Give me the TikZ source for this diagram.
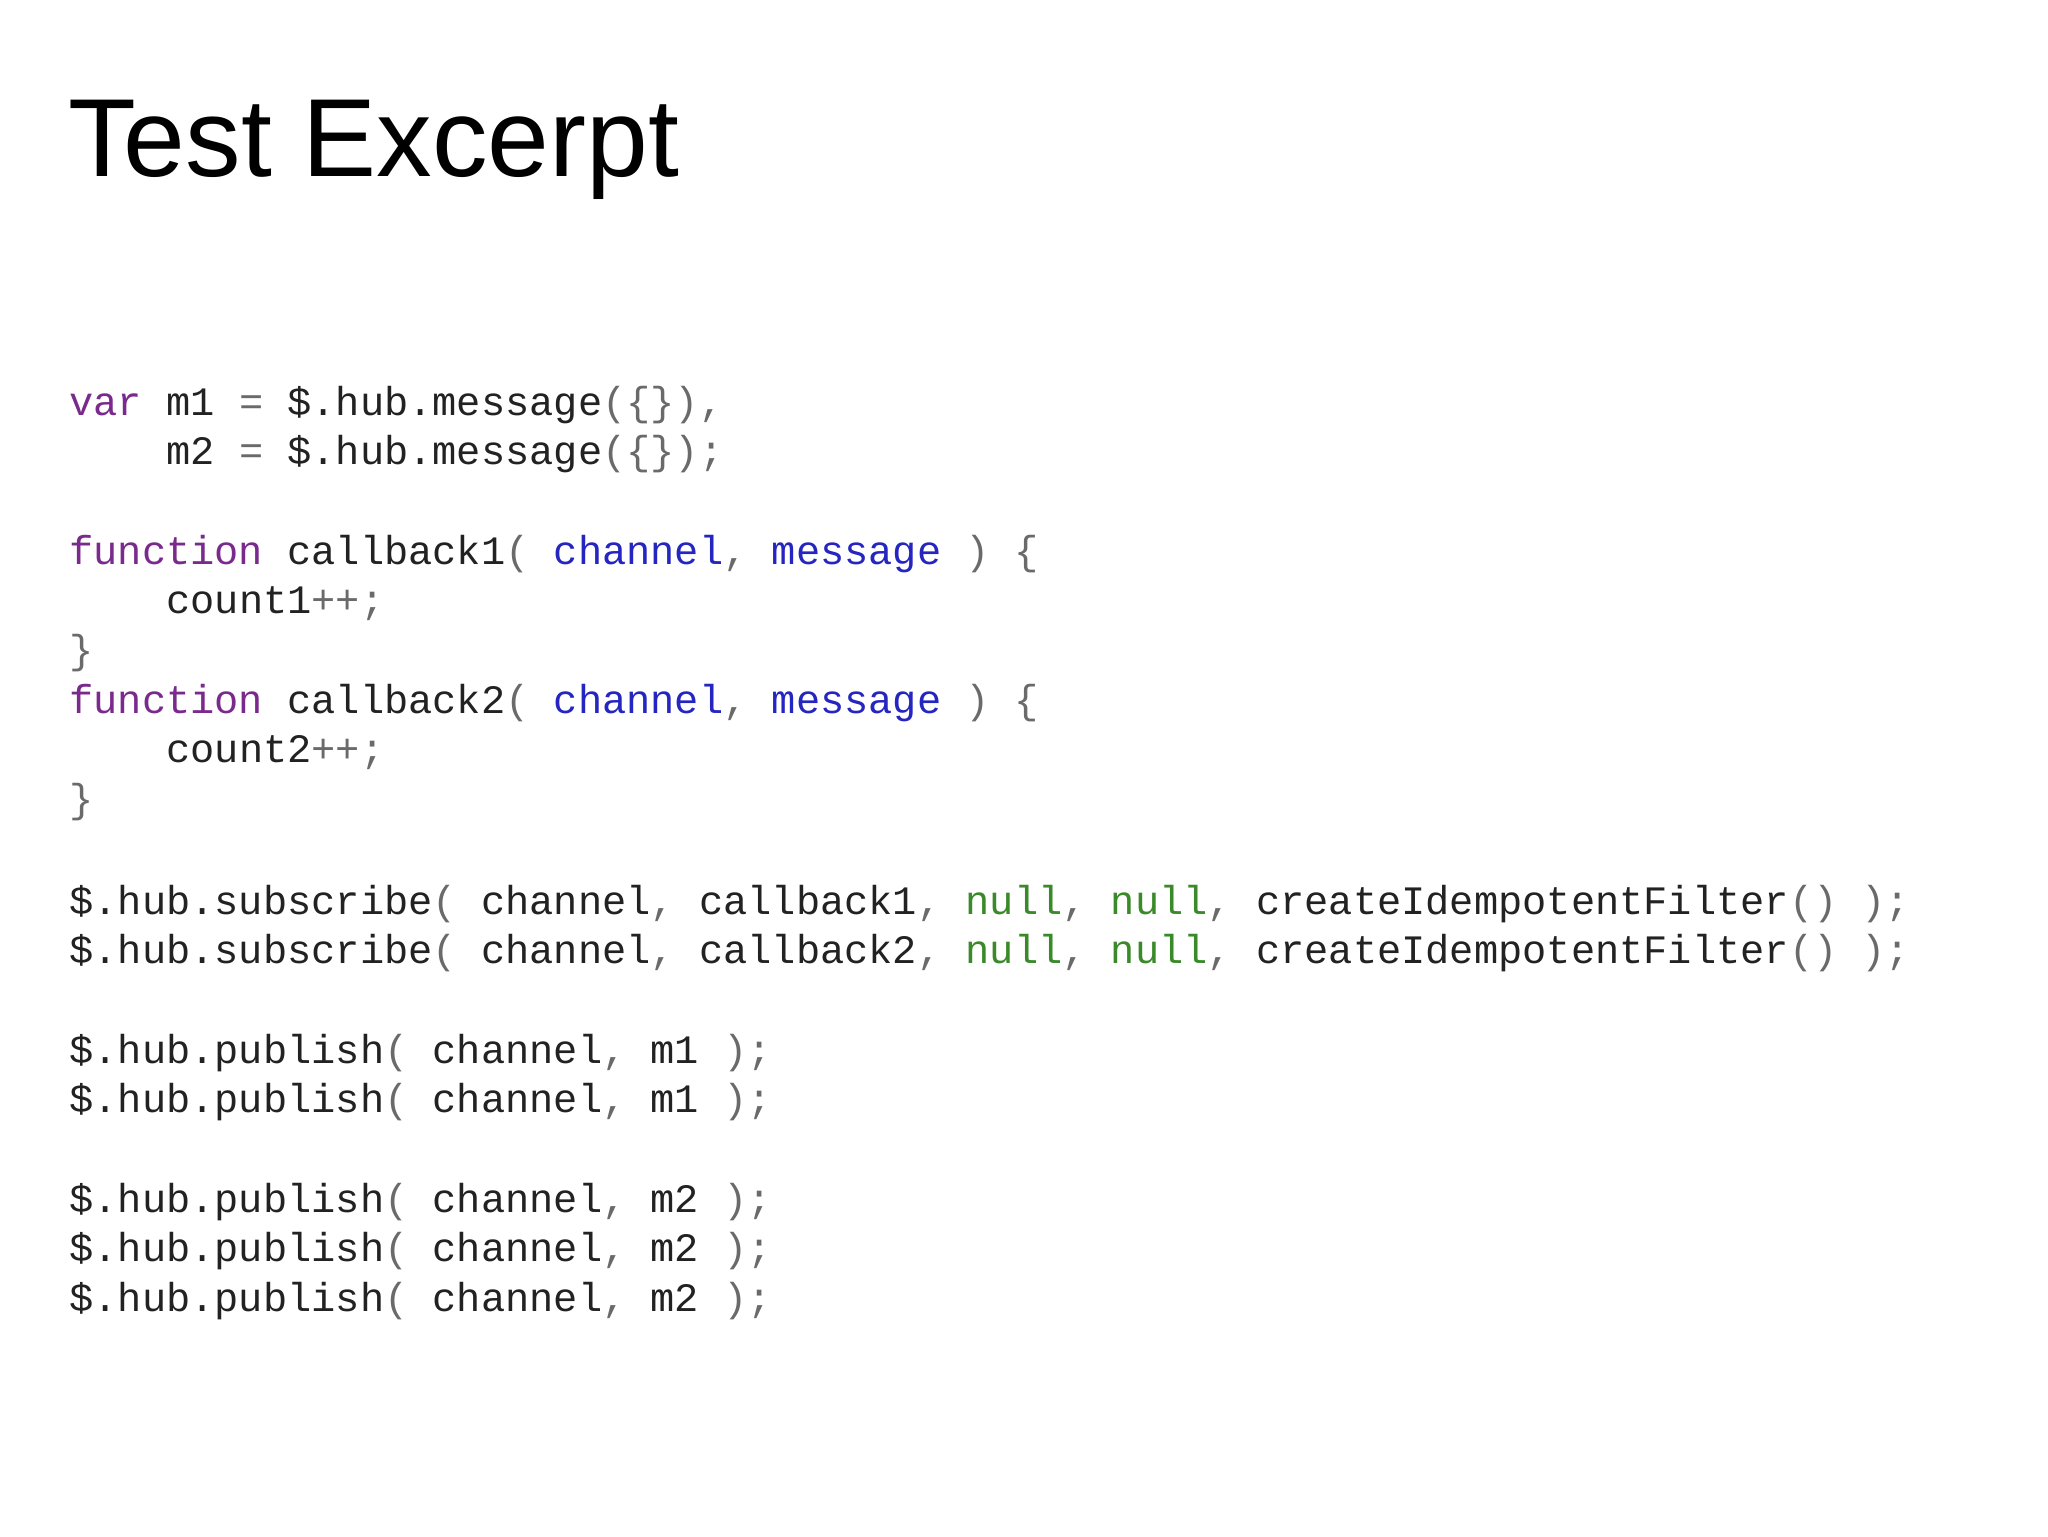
\documentclass[tikz,border=0pt]{standalone}
\usepackage{fontspec}
\setmainfont{Liberation Sans}
\newfontfamily\codefont{Liberation Mono}
\definecolor{kw}{HTML}{7A2A8C}
\definecolor{pa}{HTML}{2525C0}
\definecolor{nu}{HTML}{3A8A2A}
\definecolor{pu}{HTML}{6A6A6A}
\definecolor{tx}{HTML}{222222}
\newcommand{\K}[1]{\textcolor{kw}{#1}}
\newcommand{\Pa}[1]{\textcolor{pa}{#1}}
\newcommand{\Nu}[1]{\textcolor{nu}{#1}}
\newcommand{\Pu}[1]{\textcolor{pu}{#1}}
\newcommand{\Ind}{\phantom{xxxx}}
\begin{document}
\begin{tikzpicture}[x=1pt,y=-1pt,
  code/.style={anchor=base west,inner sep=0pt,font=\codefont\fontsize{30.9}{38}\selectfont,text=tx}]
\useasboundingbox (0,0) rectangle (1568,1176);
\node[anchor=base west,inner sep=0pt,font=\fontsize{85}{100}\selectfont] (title) at (52,135) {Test Excerpt};
\node[code] (l1) at (53,318) {\K{var} m1 \Pu{=} \$.hub.message\Pu{(\{\}),}};
\node[code] (l2) at (53,356) {\Ind m2 \Pu{=} \$.hub.message\Pu{(\{\});}};
\node[code] (l3) at (53,432) {\K{function} callback1\Pu{(} \Pa{channel}\Pu{,} \Pa{message} \Pu{) \{}};
\node[code] (l4) at (53,470) {\Ind count1\Pu{++;}};
\node[code] (l5) at (53,508) {\Pu{\}}};
\node[code] (l6) at (53,546) {\K{function} callback2\Pu{(} \Pa{channel}\Pu{,} \Pa{message} \Pu{) \{}};
\node[code] (l7) at (53,584) {\Ind count2\Pu{++;}};
\node[code] (l8) at (53,622) {\Pu{\}}};
\node[code] (l9) at (53,700) {\$.hub.subscribe\Pu{(} channel\Pu{,} callback1\Pu{,} \Nu{null}\Pu{,} \Nu{null}\Pu{,} createIdempotentFilter\Pu{() );}};
\node[code] (l10) at (53,738) {\$.hub.subscribe\Pu{(} channel\Pu{,} callback2\Pu{,} \Nu{null}\Pu{,} \Nu{null}\Pu{,} createIdempotentFilter\Pu{() );}};
\node[code] (l11) at (53,814) {\$.hub.publish\Pu{(} channel\Pu{,} m1 \Pu{);}};
\node[code] (l12) at (53,852) {\$.hub.publish\Pu{(} channel\Pu{,} m1 \Pu{);}};
\node[code] (l13) at (53,928) {\$.hub.publish\Pu{(} channel\Pu{,} m2 \Pu{);}};
\node[code] (l14) at (53,966) {\$.hub.publish\Pu{(} channel\Pu{,} m2 \Pu{);}};
\node[code] (l15) at (53,1004) {\$.hub.publish\Pu{(} channel\Pu{,} m2 \Pu{);}};
\end{tikzpicture}
\end{document}
